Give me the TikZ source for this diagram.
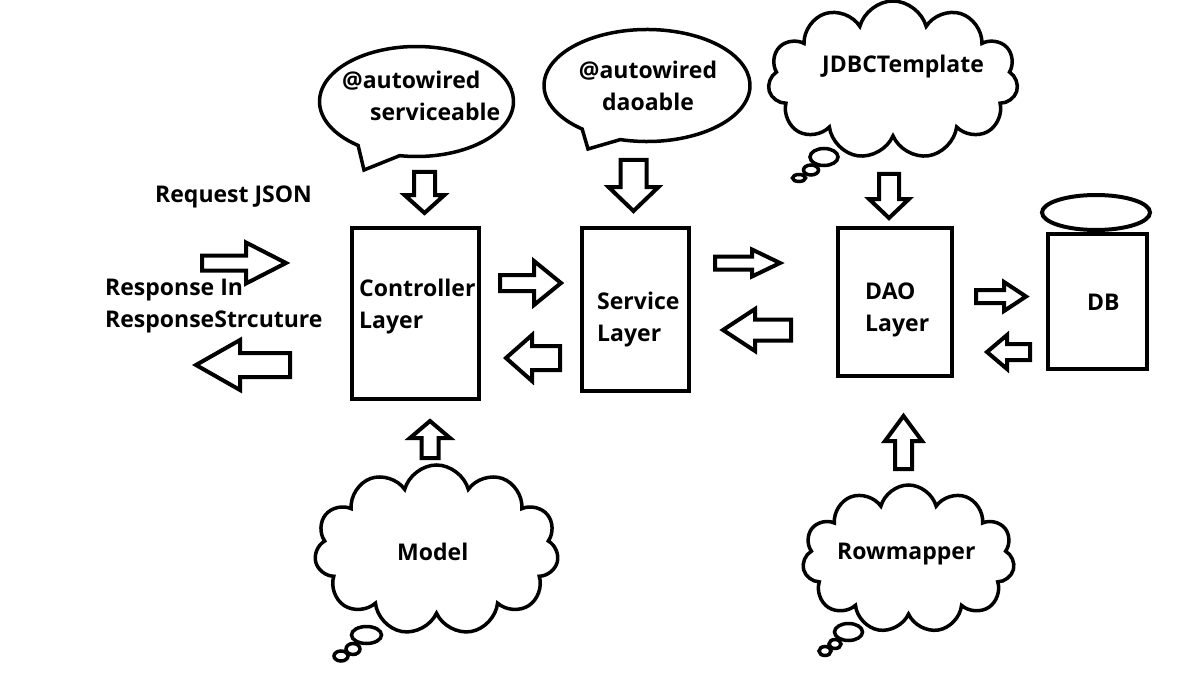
\documentclass[tikz,border=0pt]{standalone}
\usepackage{fontspec}
\setmainfont{Open Sans}
\usetikzlibrary{shapes.geometric, shapes.symbols}

% hollow block arrow: tail, angle, length, head length, shaft width, head width
\newcommand{\blockarrow}[6]{%
	\draw[blockarrow, shift={(#1)}, rotate=#2]
		(0,-#5/2) -- (#3-#4,-#5/2) -- (#3-#4,-#6/2) -- (#3,0)
		-- (#3-#4,#6/2) -- (#3-#4,#5/2) -- (0,#5/2) -- cycle;}

\begin{document}
\begin{tikzpicture}[x=1pt, y=-1pt,
		every node/.style={font=\fontsize{23}{32}\selectfont\bfseries, inner sep=0pt},
		layer/.style={draw, line width=4pt, rectangle},
		thought/.style={cloud, cloud puffs=11, cloud ignores aspect, draw, line width=3.5pt, fill=white},
		puff/.style={draw, line width=3.5pt, fill=white},
		bubble/.style={draw, line width=3.5pt, fill=white, line join=miter},
		blockarrow/.style={draw, line width=4pt, line join=miter}]
		\useasboundingbox (0,0) rectangle (1181,690);
		%%%%%%%%%%%%%
		\node[layer, minimum width=127pt, minimum height=171pt] (ctrl) at (415.5,313.5) {};
		\node[layer, minimum width=107pt, minimum height=163pt] (serv) at (635.5,309.5) {};
		\node[layer, minimum width=114pt, minimum height=148pt] (dao) at (895,302) {};
		\node[layer, minimum width=99pt, minimum height=135pt] (db) at (1097.5,301.5) {};
		\node[ellipse, draw, line width=4pt, fill=white, minimum width=108pt, minimum height=35pt] (dbtop) at (1096,212.5) {};
		%%%%%%%%%%%%%
		\draw[bubble] (416.5,101.5) ++(100:97 and 55) arc[start angle=100, end angle=-233, x radius=97, y radius=55] -- (364,170) -- cycle;
		\draw[bubble] (647,85.5) ++(105:103 and 56) arc[start angle=105, end angle=-231, x radius=103, y radius=56] -- (588,149) -- cycle;
		\node[thought, minimum width=250pt, minimum height=158pt] (jdbc) at (893,80) {};
		\node[thought, minimum width=244pt, minimum height=170pt] (model) at (436.5,550) {};
		\node[thought, minimum width=212pt, minimum height=148pt] (rowmap) at (908.5,559) {};
		\draw[puff] (799,178) ellipse [x radius=6.5, y radius=3.5];
		\draw[puff] (811,170) ellipse [x radius=7.5, y radius=5];
		\draw[puff] (824,157) ellipse [x radius=14, y radius=8.5];
		\draw[puff] (341,656) ellipse [x radius=7, y radius=5];
		\draw[puff] (353,649) ellipse [x radius=7, y radius=5.5];
		\draw[puff] (366.5,635) ellipse [x radius=15, y radius=8.5];
		\draw[puff] (825,651) ellipse [x radius=6, y radius=4.5];
		\draw[puff] (835,644) ellipse [x radius=6, y radius=4.5];
		\draw[puff] (848.5,632) ellipse [x radius=14, y radius=8.5];
		%%%%%%%%%%%%%
		\blockarrow{202,263}{0}{84}{40}{15}{41}
		\blockarrow{290,365}{180}{94}{44}{24}{50}
		\blockarrow{500,283}{0}{61}{27}{16}{44}
		\blockarrow{560,358}{180}{54}{26}{24}{46}
		\blockarrow{715,263}{0}{65}{28}{13}{27}
		\blockarrow{791,330}{180}{68}{32}{21}{42}
		\blockarrow{976,296.5}{0}{50}{22}{13}{29}
		\blockarrow{1030,352}{180}{43}{20}{16}{34}
		\blockarrow{424.5,172}{-90}{41}{18}{21}{40}
		\blockarrow{633.5,160}{-90}{51}{24}{26}{50}
		\blockarrow{889,174}{-90}{44}{19}{20}{40}
		\blockarrow{430,458}{90}{37}{17}{17}{40}
		\blockarrow{903.5,469}{90}{53}{25}{17}{37}
		%%%%%%%%%%%%%
		\node[anchor=west, align=left] (ctrltext) at (359,307) {Controller\\Layer};
		\node[anchor=west, align=left] (servtext) at (597,320) {Service\\Layer};
		\node[anchor=west, align=left] (daotext) at (865,310) {DAO\\Layer};
		\node[anchor=base west] (dbtext) at (1087,310) {DB};
		\node[anchor=base west] (request) at (155,202) {Request JSON};
		\node[anchor=west, align=left] (response) at (105,306) {Response In\\ResponseStrcuture};
		\node[anchor=west, align=left] (wireserv) at (342,96) {@autowired\\\hspace*{28pt}serviceable};
		\node[align=center] (wiredao) at (648,86) {@autowired\\daoable};
		\node[anchor=base west] (jdbctext) at (822,73) {JDBCTemplate};
		\node[anchor=base west] (modeltext) at (397,560) {Model};
		\node[anchor=base west] (rowtext) at (837,559) {Rowmapper};
\end{tikzpicture}
\end{document}
